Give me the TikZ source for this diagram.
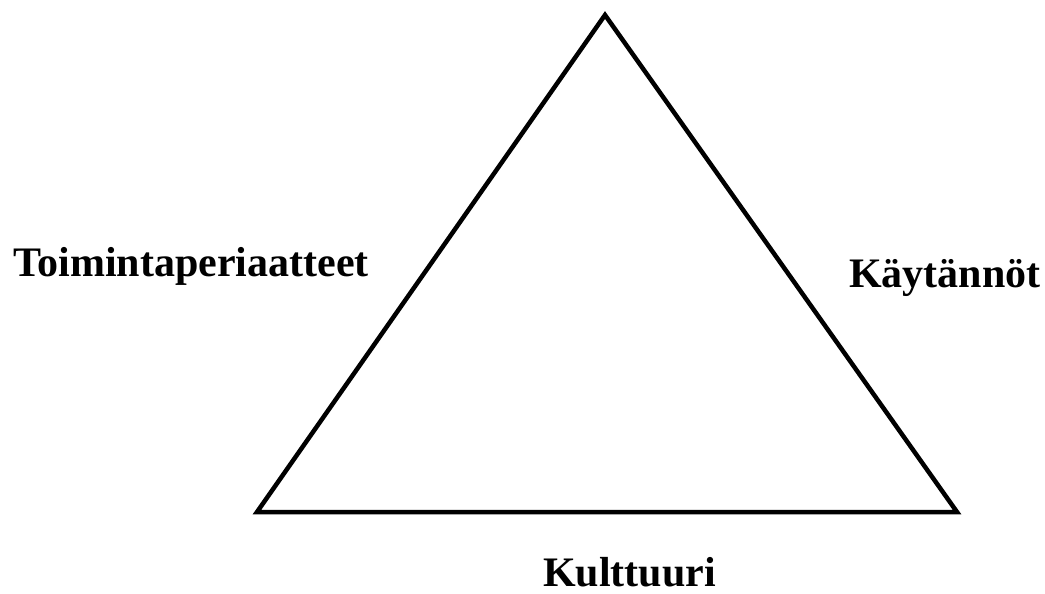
\documentclass[tikz,border=0pt]{standalone}
\usepackage{fontspec}
\setmainfont{Liberation Serif}
\usepackage{tikz}

\tikzset{
  side/.style={font=\fontsize{42}{48}\selectfont\bfseries, inner sep=0pt, anchor=base west},
}

\begin{document}
\begin{tikzpicture}[x=1pt, y=-1pt, line width=4.5pt, line join=miter]
        \useasboundingbox (0,0) rectangle (1045,594);

        \coordinate (top) at (605,15);
        \coordinate (bl) at (257,512);
        \coordinate (br) at (957,512);

        \draw (top) -- (bl) -- (br) -- cycle;

        \node[side] (policy) at (11,276) {Toimintaperiaatteet};
        \node[side] (practice) at (847,287) {Käytännöt};
        \node[side] (culture) at (541,586) {Kulttuuri};
\end{tikzpicture}
\end{document}
